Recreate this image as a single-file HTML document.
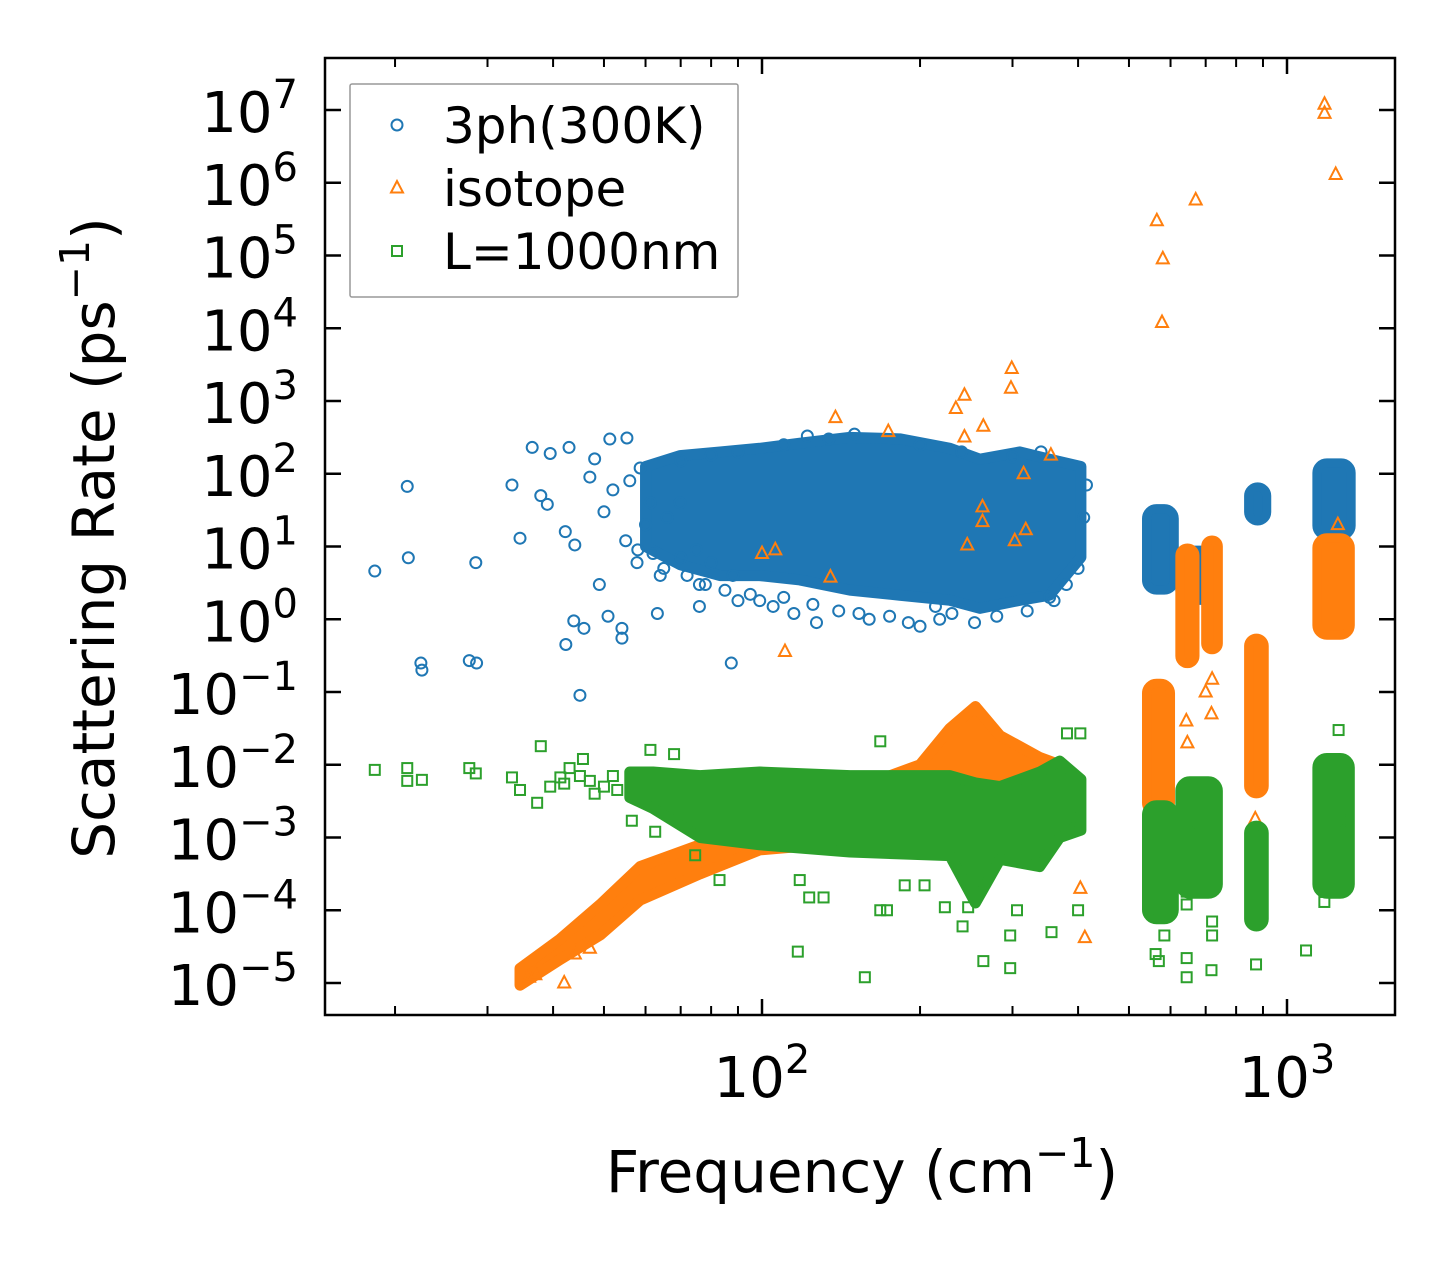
<!DOCTYPE html>
<html><head><meta charset="utf-8"><title>Scattering rate chart</title>
<style>
html,body{margin:0;padding:0;background:#fff;}
svg{display:block;font-family:"DejaVu Sans","Liberation Sans",sans-serif;}
</style></head>
<body>
<svg id="chart" width="1455" height="1265" viewBox="0 0 1455 1265" xmlns="http://www.w3.org/2000/svg">
<rect x="0" y="0" width="1455" height="1265" fill="#fff"/>
<g id="marks"></g>
<g id="axes"></g>
<g id="legend"></g>
</svg>
<script>
// ---- axis ticks ----
const yTickExps = [-5,-4,-3,-2,-1,0,1,2,3,4,5,6,7];
const xTickExps = [2,3];
const xMinorVals = [20,30,40,50,60,70,80,90,200,300,400,500,600,700,800,900];

// ---- blue (3ph 300K) dense band ----
const blueBandF  = [60,69.8,83.2,99,118,147,183,228,260,310,353,405];
const blueBandLo = [1.0,0.75,0.6,0.6,0.54,0.40,0.33,0.26,0.15,0.26,0.33,0.85];
const blueBandHi = [2.1,2.25,2.3,2.35,2.42,2.5,2.48,2.35,2.2,2.3,2.2,2.1];
// blue clusters: f start, f end, log lo, log hi
const blueClF0 = [540,625,845,1140];
const blueClF1 = [610,728,915,1325];
const blueClLo = [0.4,0.26,1.35,1.15];
const blueClHi = [1.52,0.95,1.82,2.15];
const blueF = [18.3,21.1,21.2,22.4,22.5,27.7,28.6,28.5,33.4,34.6,36.5,37.9,42.9,39.5,39.0,42.2,44.0,42.3,43.8,45.8,45.0,48.0,51.3,55.3,54.1,54.1,50.9,58.6,61.3,63.2,69.8,87.4,57.8,49,76,99,127,153,122,134,218,214,353,254,76,
  60,62,65,66,70,72,75,78,80,85,88,90,95,105,110,115,125,140,160,175,190,200,230,280,320,360,380,400,410,415,70,80,90,110,150,200,240,300,340,56,52,50,47,55,58,64];
const blueR = [4.6,67,7,0.25,0.2,0.27,0.25,6,70,13,230,50,230,190,38,16,10.5,0.45,0.95,0.75,0.09,160,300,310,0.55,0.75,1.1,120,40,1.2,40,0.25,6,3,3,1.8,0.9,1.2,330,300,1,1.5,2,0.9,1.5,
  20,8,5,25,7,4,9,3,6,2.5,4,1.8,2.2,1.5,2,1.2,1.6,1.3,1.0,1.1,0.9,0.8,1.2,1.1,1.3,1.8,3,5,25,70,150,180,200,250,350,250,200,170,200,80,60,30,90,12,9,4];

// ---- orange (isotope) ----
const orBandF  = [34.6,41.2,49.2,58.6,76.2,99,129,168,200,228,255,284,338,369];
const orBandLo = [-5.03,-4.68,-4.34,-3.86,-3.5,-3.17,-3.1,-3.0,-3.0,-3.0,-3.0,-3.0,-3.0,-3.0];
const orBandHi = [-4.8,-4.4,-3.92,-3.4,-3.1,-2.76,-2.5,-2.2,-2.0,-1.5,-1.2,-1.6,-1.9,-2.0];
const orClF0 = [540,625,700,845,1140];
const orClF1 = [600,668,740,905,1320];
const orClLo = [-2.66,-0.61,-0.42,-2.4,-0.22];
const orClHi = [-0.88,0.98,1.09,-0.26,1.12];
const orF = [135,110.6,138,174,234,243,243,264,299,298,355,315,263,263,246,303,318,100,106,565,580,578,670,1179,1179,1238,1250,412,404,1265,643,646,718,700,720,870,566,36,37,42,44,47];
const orR = [3.8,0.36,590,380,790,1200,320,450,2800,1500,180,100,35,22,10.5,12,17,8,9,300000,90000,12000,580000,1.2e7,9e6,1.3e6,20,4.2e-5,2e-4,3.5e-4,0.04,0.02,0.05,0.1,0.15,0.0018,0.0012,1.2e-5,1.3e-5,1e-5,2.5e-5,3e-5];

// ---- green (L=1000nm) ----
const grBandF  = [56,62,76.2,99,147,228,255,284,338,369,405];
const grBandLo = [-2.45,-2.6,-3.0,-3.1,-3.2,-3.25,-3.9,-3.3,-3.4,-3.0,-2.9];
const grBandHi = [-2.1,-2.1,-2.15,-2.1,-2.15,-2.15,-2.25,-2.3,-2.1,-1.95,-2.2];
const grClF0 = [540,625,845,1140];
const grClF1 = [610,740,905,1320];
const grClLo = [-4.13,-3.78,-4.23,-3.78];
const grClHi = [-2.55,-2.22,-2.83,-1.9];
const grF = [18.3,21.1,21.1,22.5,27.7,28.5,33.4,34.6,37.9,37.3,39.5,41.3,45.6,43,61.3,68,56.5,62.6,74.6,83,118,123,117,131,157,168,173,187,204,223,247,264,297,297,356,241,306,168,381,404,395,400,1254,1087,873,644,644,718,562,570,584,644,644,720,720,1178,1178,1297,650,47,50,52,48,53,45,42];
const grR = [8.5e-3,9e-3,6e-3,6.2e-3,9e-3,7.6e-3,6.7e-3,4.5e-3,1.8e-2,3e-3,5e-3,6.7e-3,1.2e-2,9e-3,1.6e-2,1.4e-2,1.7e-3,1.2e-3,5.7e-4,2.6e-4,2.6e-4,1.5e-4,2.7e-5,1.5e-4,1.2e-5,1e-4,1e-4,2.2e-4,2.2e-4,1.1e-4,1.1e-4,2e-5,1.6e-5,4.5e-5,5e-5,6e-5,1e-4,2.1e-2,2.7e-2,2.7e-2,1.8e-3,1e-4,3e-2,2.8e-5,1.8e-5,2.2e-5,1.2e-5,1.5e-5,2.5e-5,2e-5,4.5e-5,1.8e-4,1.2e-4,7e-5,4.5e-5,1.3e-4,2.1e-4,1.7e-3,1.6e-3,6e-3,5e-3,7e-3,4e-3,4.5e-3,7e-3,5.5e-3];

const BLUE="#1f77b4", ORANGE="#ff7f0e", GREEN="#2ca02c";
const PL=325, PR=1395, PT=58, PB=1015;
function X(f){ return 762 + 525*(Math.log10(f)-2); }
function Yl(lr){ return 983 - 72.75*(lr+5); }
function Y(r){ return Yl(Math.log10(r)); }
const NS="http://www.w3.org/2000/svg";
function mk(tag, attrs, parent){ const e=document.createElementNS(NS,tag); for(const k in attrs) e.setAttribute(k,attrs[k]); parent.appendChild(e); return e; }

const marks=document.getElementById('marks');
const clip=mk('clipPath',{id:'pc'},document.getElementById('chart'));
mk('rect',{x:PL,y:PT,width:PR-PL,height:PB-PT},clip);
marks.setAttribute('clip-path','url(#pc)');

function band(F,Lo,Hi,color,name){
  let pts=[];
  for(let i=0;i<F.length;i++) pts.push(X(F[i])+','+Yl(Hi[i]));
  for(let i=F.length-1;i>=0;i--) pts.push(X(F[i])+','+Yl(Lo[i]));
  const p=mk('polygon',{points:pts.join(' '),fill:color,stroke:color,'stroke-width':11,'stroke-linejoin':'round'},marks);
  
  
}
function clusters(F0,F1,Lo,Hi,color,name){
  for(let i=0;i<F0.length;i++){
    const x0=X(F0[i]), x1=X(F1[i]), y0=Yl(Hi[i]), y1=Yl(Lo[i]);
    const r=mk('rect',{x:x0,y:y0,width:x1-x0,height:y1-y0,rx:Math.min(10,(x1-x0)/2),fill:color,stroke:color,'stroke-width':9,'stroke-linejoin':'round'},marks);
    
    
  }
}
function marker(type,x,y,color,parent){
  let e;
  if(type==='circle') e=mk('circle',{cx:x,cy:y,r:5.5,fill:'none',stroke:color,'stroke-width':2},parent);
  else if(type==='tri') e=mk('polygon',{points:`${x},${y-7} ${x-6},${y+4.5} ${x+6},${y+4.5}`,fill:'none',stroke:color,'stroke-width':2,'stroke-linejoin':'miter'},parent);
  else e=mk('rect',{x:x-5,y:y-5,width:10,height:10,fill:'none',stroke:color,'stroke-width':2},parent);
  return e;
}
function scatter(F,R,type,color,name){
  for(let i=0;i<F.length;i++){
    const e=marker(type,X(F[i]),Y(R[i]),color,marks);
    
    
  }
}
band(blueBandF,blueBandLo,blueBandHi,BLUE,'3ph-dense-band');
clusters(blueClF0,blueClF1,blueClLo,blueClHi,BLUE,'3ph-cluster');
scatter(blueF,blueR,'circle',BLUE,'3ph-point');
band(orBandF,orBandLo,orBandHi,ORANGE,'isotope-dense-band');
clusters(orClF0,orClF1,orClLo,orClHi,ORANGE,'isotope-cluster');
scatter(orF,orR,'tri',ORANGE,'isotope-point');
band(grBandF,grBandLo,grBandHi,GREEN,'boundary-dense-band');
clusters(grClF0,grClF1,grClLo,grClHi,GREEN,'boundary-cluster');
scatter(grF,grR,'square',GREEN,'boundary-point');

// ---- axes ----
const axes=document.getElementById('axes');
const frame=mk('rect',{x:PL,y:PT,width:PR-PL,height:PB-PT,fill:'none',stroke:'#000','stroke-width':2.5},axes);


yTickExps.forEach(e=>{
  const y=Yl(e);
  mk('line',{x1:PL,x2:PL+16,y1:y,y2:y,stroke:'#000','stroke-width':2.5},axes);
  mk('line',{x1:PR-16,x2:PR,y1:y,y2:y,stroke:'#000','stroke-width':2.5},axes);
  const t=mk('text',{x:298,y:y+22,'text-anchor':'end','font-size':56,fill:'#000'},axes);
  
  
  t.appendChild(document.createTextNode('10'));
  const s=mk('tspan',{'font-size':40,dy:-24},t);
  s.textContent=(e<0?'\u2212'+(-e):String(e));
});
xTickExps.forEach(e=>{
  const x=X(Math.pow(10,e));
  mk('line',{x1:x,x2:x,y1:PB,y2:PB-16,stroke:'#000','stroke-width':2.5},axes);
  mk('line',{x1:x,x2:x,y1:PT,y2:PT+16,stroke:'#000','stroke-width':2.5},axes);
  const t=mk('text',{x:x,y:1097,'text-anchor':'middle','font-size':56,fill:'#000'},axes);
  
  
  t.appendChild(document.createTextNode('10'));
  const s=mk('tspan',{'font-size':40,dy:-24},t);
  s.textContent=String(e);
});
xMinorVals.forEach(v=>{
  const x=X(v);
  mk('line',{x1:x,x2:x,y1:PB,y2:PB-9,stroke:'#000','stroke-width':2},axes);
  mk('line',{x1:x,x2:x,y1:PT,y2:PT+9,stroke:'#000','stroke-width':2},axes);
});
const xt=mk('text',{x:862,y:1192,'text-anchor':'middle','font-size':58,fill:'#000'},axes);


xt.appendChild(document.createTextNode('Frequency (cm'));
mk('tspan',{'font-size':41,dy:-25},xt).textContent='\u22121';
mk('tspan',{dy:25},xt).textContent=')';
const yt=mk('text',{x:0,y:0,'text-anchor':'middle','font-size':58,fill:'#000',transform:'translate(114,538) rotate(-90)'},axes);


yt.appendChild(document.createTextNode('Scattering Rate (ps'));
mk('tspan',{'font-size':41,dy:-25},yt).textContent='\u22121';
mk('tspan',{dy:25},yt).textContent=')';

// ---- legend ----
const lg=document.getElementById('legend');
const lbox=mk('rect',{x:350,y:84,width:388,height:213,fill:'#fff','fill-opacity':0.8,stroke:'#999','stroke-width':1.5,rx:2},lg);


const legLabels=['3ph(300K)','isotope','L=1000nm'];
const legTypes=['circle','tri','square'];
const legColors=[BLUE,ORANGE,GREEN];
legLabels.forEach((lab,i)=>{
  const y=125+i*63;
  const g=mk('g',{},lg);
  
  
  marker(legTypes[i],397,y,legColors[i],g);
  const t=mk('text',{x:443,y:y+18,'font-size':50,fill:'#000'},g);
  t.textContent=lab;
});
</script>
</body></html>
